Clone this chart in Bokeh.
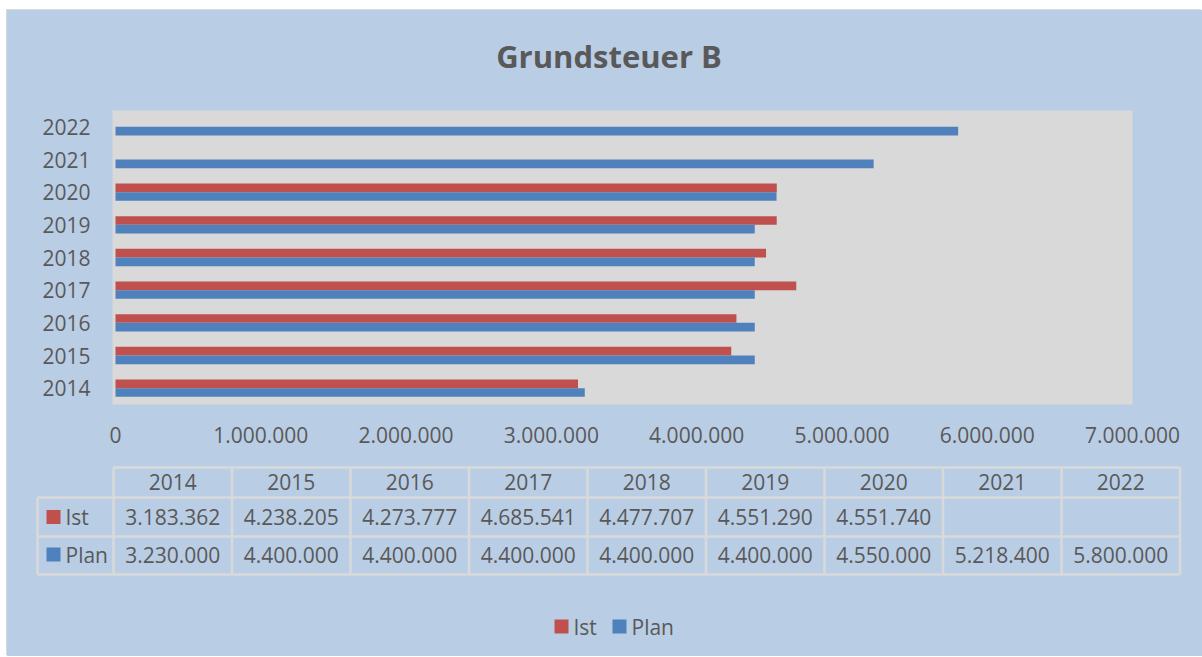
from bokeh.plotting import figure
from bokeh.models import Range1d, FactorRange, FixedTicker, ColumnDataSource
from bokeh.transform import dodge
from bokeh.layouts import column
from bokeh.core.properties import value
from bokeh.embed import file_html
from bokeh.resources import INLINE

nan = float("nan")

# ---- data ----
title_text = "Grundsteuer B"
years = ["2014", "2015", "2016", "2017", "2018", "2019", "2020", "2021", "2022"]
ist = [3183362, 4238205, 4273777, 4685541, 4477707, 4551290, 4551740, nan, nan]
plan = [3230000, 4400000, 4400000, 4400000, 4400000, 4400000, 4550000, 5218400, 5800000]
series_names = ["Ist", "Plan"]
x_ticks = [0, 1000000, 2000000, 3000000, 4000000, 5000000, 6000000, 7000000]

# ---- style ----
BG = "#B9CDE5"
PLOT_BG = "#D9D9D9"
RED = "#C0504D"
BLUE = "#4F81BD"
TXT = "#595959"
GRIDC = "#D9D9D9"
FONT = "Open Sans"
FS = "21px"


def fmt(v):
    if v != v:
        return ""
    return f"{int(v):,}".replace(",", ".")


def pixel_fig(w, h):
    f = figure(width=w, height=h, output_backend="svg", toolbar_location=None,
               x_range=Range1d(0, w), y_range=Range1d(h, 0),
               x_axis_location=None, y_axis_location=None, min_border=0)
    f.frame_align = False
    f.background_fill_color = BG
    f.border_fill_color = BG
    f.outline_line_color = None
    f.grid.grid_line_color = None
    return f


W = 1195
H0 = 100
H1 = 350
H2 = 196

# ---- title strip ----
p0 = pixel_fig(W, H0)
p0.text(x=[601.5], y=[45], text=[title_text], text_align="center",
        text_baseline="middle", text_font=value(FONT), text_font_size="31px",
        text_font_style="bold", text_color=TXT)

# ---- bar chart ----
src = ColumnDataSource(data=dict(years=years, ist=ist, plan=plan))

p1 = figure(width=W, height=H1, output_backend="svg", toolbar_location=None,
            y_range=FactorRange(*years), x_range=Range1d(-20650, 7000000),
            min_border_left=105, min_border_right=70, min_border_top=0,
            min_border_bottom=56)
p1.frame_align = False
p1.background_fill_color = PLOT_BG
p1.border_fill_color = BG
p1.outline_line_color = None
p1.grid.grid_line_color = None

BAR_H = 0.266
p1.hbar(y=dodge("years", BAR_H / 2, range=p1.y_range), right="ist", left=0,
        height=BAR_H, source=src, fill_color=RED, line_color=None)
p1.hbar(y=dodge("years", -BAR_H / 2, range=p1.y_range), right="plan", left=0,
        height=BAR_H, source=src, fill_color=BLUE, line_color=None)

for ax in (p1.xaxis[0], p1.yaxis[0]):
    ax.axis_line_color = None
    ax.major_tick_line_color = None
    ax.minor_tick_line_color = None
    ax.major_tick_out = 0
    ax.major_tick_in = 0
    ax.major_label_text_font = FONT
    ax.major_label_text_font_size = FS
    ax.major_label_text_color = TXT

p1.yaxis.major_label_standoff = 22
p1.xaxis.major_label_standoff = 22
p1.xaxis.ticker = FixedTicker(ticks=x_ticks)
p1.xaxis.major_label_overrides = {t: fmt(t) for t in x_ticks}

# ---- data table + legend ----
p2 = pixel_fig(W, H2)

LBL_L = 30
COL0 = 106
COLW = 118.5
ROWS = [7, 37, 76, 114]
n = len(years)
right_edge = COL0 + COLW * n

x0, y0, x1, y1 = [], [], [], []
x0.append(COL0); x1.append(right_edge); y0.append(ROWS[0]); y1.append(ROWS[0])
for r in ROWS[1:]:
    x0.append(LBL_L); x1.append(right_edge); y0.append(r); y1.append(r)
x0.append(LBL_L); x1.append(LBL_L); y0.append(ROWS[1]); y1.append(ROWS[3])
for i in range(n + 1):
    xx = COL0 + COLW * i
    x0.append(xx); x1.append(xx); y0.append(ROWS[0]); y1.append(ROWS[3])
p2.segment(x0=x0, y0=y0, x1=x1, y1=y1, line_color=GRIDC, line_width=2.5)

centers = [COL0 + COLW * (i + 0.5) for i in range(n)]
row_c = [(ROWS[k] + ROWS[k + 1]) / 2 for k in range(3)]

tx, ty, tt = [], [], []
for i in range(n):
    tx.append(centers[i]); ty.append(row_c[0] - 1); tt.append(years[i])
    tx.append(centers[i]); ty.append(row_c[1]); tt.append(fmt(ist[i]))
    tx.append(centers[i]); ty.append(row_c[2] - 1); tt.append(fmt(plan[i]))
p2.text(x=tx, y=ty, text=tt, text_align="center", text_baseline="middle",
        text_font=value(FONT), text_font_size=FS, text_color=TXT)

KEY = 14
p2.rect(x=[46, 46], y=[row_c[1], row_c[2] - 1], width=KEY, height=KEY,
        fill_color=[RED, BLUE], line_color=None)
p2.text(x=[58, 58], y=[row_c[1], row_c[2] - 1], text=series_names,
        text_align="left", text_baseline="middle",
        text_font=value(FONT), text_font_size=FS, text_color=TXT)

LEG_Y = 166
p2.rect(x=[554, 612], y=[LEG_Y, LEG_Y], width=KEY, height=KEY,
        fill_color=[RED, BLUE], line_color=None)
p2.text(x=[566, 624], y=[LEG_Y, LEG_Y], text=series_names,
        text_align="left", text_baseline="middle",
        text_font=value(FONT), text_font_size=FS, text_color=TXT)

layout = column(p0, p1, p2, spacing=0)
layout.margin = (10, 0, 0, 7)
layout.styles = {"background-color": BG, "box-shadow": "-1px -1px 0 0 #D9D9D9"}
open("out.html", "w").write(file_html(layout, INLINE))
